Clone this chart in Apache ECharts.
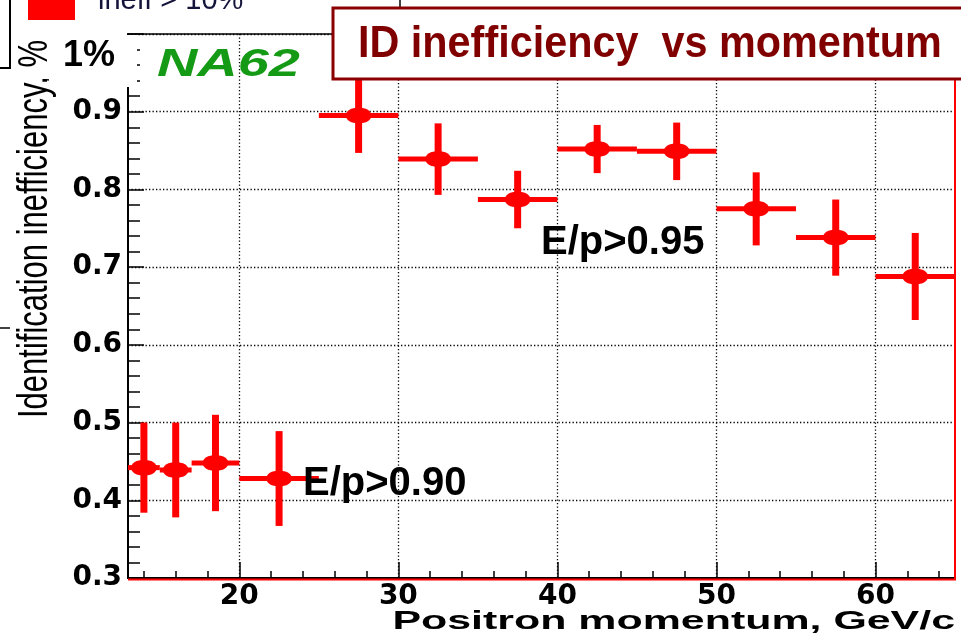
<!DOCTYPE html>
<html>
<head>
<meta charset="utf-8">
<script src="https://cdn.jsdelivr.net/npm/echarts@6/dist/echarts.min.js"></script>
<style>
  html, body { margin: 0; padding: 0; background: #fff; }
  #chart { width: 961px; height: 634px; }
</style>
</head>
<body>
<div id="chart"></div>
<script>
// momentum bins (GeV/c) and measured ID inefficiency (%) with errors
const binLow  = [13, 15, 17, 20, 25, 30, 35, 40, 45, 50, 55, 60];
const binHigh = [15, 17, 20, 25, 30, 35, 40, 45, 50, 55, 60, 65];
const ineff    = [0.442, 0.439, 0.448, 0.428, 0.895, 0.839, 0.787, 0.852, 0.849, 0.775, 0.738, 0.688];
const ineffErr = [0.058, 0.061, 0.062, 0.061, 0.048, 0.046, 0.037, 0.031, 0.037, 0.047, 0.049, 0.056];

const xMajorTicks = [20, 30, 40, 50, 60];
const xMinorTicks = [14, 16, 18, 22, 24, 26, 28, 32, 34, 36, 38, 42, 44, 46, 48, 52, 54, 56, 58, 62, 64];

const W = 961, H = 634;
const G = { left: 128, right: 6, top: 34, bottom: 56 };
const RED = '#ff0000';
const TITLE_RED = '#800000';

const chart = echarts.init(document.getElementById('chart'), null, { renderer: 'canvas' });

const points = binLow.map((lo, i) => [lo, binHigh[i], ineff[i], ineffErr[i]]);

const tickFont = { fontFamily: 'DejaVu Sans', fontWeight: 'bold', fontSize: 28, color: '#000' };
const dotted = { color: '#000', width: 1.3, type: [1.3, 2.2] };

chart.setOption({
  animation: false,
  backgroundColor: '#fff',
  grid: {
    left: G.left, right: G.right, top: G.top, bottom: G.bottom,
    show: true, borderColor: '#000', borderWidth: 1.5, backgroundColor: 'transparent'
  },
  xAxis: [{
    type: 'value', min: 13, max: 65, position: 'bottom',
    axisLine: { lineStyle: { color: '#000', width: 2 } },
    axisTick: { inside: true, length: 16, customValues: xMajorTicks, lineStyle: { color: '#000', width: 1.5 } },
    axisLabel: Object.assign({ margin: 5, customValues: xMajorTicks }, tickFont),
    splitLine: { show: true, lineStyle: dotted }
  }, {
    type: 'value', min: 13, max: 65, position: 'bottom',
    axisLine: { show: false },
    axisTick: { inside: true, length: 7, customValues: xMinorTicks, lineStyle: { color: '#000', width: 1.5 } },
    axisLabel: { show: false },
    splitLine: { show: false }
  }],
  yAxis: {
    type: 'value', min: 0.3, max: 1.0, interval: 0.1,
    axisLine: { show: true, lineStyle: { color: '#000', width: 2 } },
    axisTick: { inside: true, length: 16, lineStyle: { color: '#000', width: 1.5 } },
    minorTick: { show: true, splitNumber: 5, length: 12, lineStyle: { color: '#000', width: 1.5 } },
    axisLabel: Object.assign({ margin: 6, formatter: v => v > 0.99 ? '' : v.toFixed(1) }, tickFont),
    splitLine: { show: true, lineStyle: dotted }
  },
  series: [{
    type: 'custom',
    xAxisIndex: 0, yAxisIndex: 0,
    clip: true,
    data: points,
    renderItem: function (params, api) {
      const lo = api.value(0), hi = api.value(1), y = api.value(2), e = api.value(3);
      const xc = (lo + hi) / 2;
      const pL = api.coord([lo, y]), pR = api.coord([hi, y]);
      const pT = api.coord([xc, y + e]), pB = api.coord([xc, y - e]);
      const pC = api.coord([xc, y]);
      return {
        type: 'group',
        children: [
          { type: 'line', shape: { x1: pL[0], y1: pL[1], x2: pR[0], y2: pR[1] }, style: { stroke: RED, lineWidth: 5 } },
          { type: 'line', shape: { x1: pT[0], y1: pT[1], x2: pB[0], y2: pB[1] }, style: { stroke: RED, lineWidth: 7 } },
          { type: 'ellipse', shape: { cx: pC[0], cy: pC[1], rx: 13, ry: 8 }, style: { fill: RED } }
        ]
      };
    }
  }],
  graphic: [
    // red histogram frame along bottom and right
    { type: 'polyline', z: 50, shape: { points: [[G.left, H - G.bottom + 1.5], [W - G.right, H - G.bottom + 1.5], [W - G.right, G.top]] },
      style: { stroke: RED, lineWidth: 2, fill: null } },
    // y axis title
    { type: 'text', z: 100, x: 35, y: 418, rotation: Math.PI / 2, scaleY: 1.4,
      style: { text: 'Identification inefficiency, %', font: 'normal 31px "Liberation Sans", Arial, sans-serif',
               fill: '#000', align: 'left', verticalAlign: 'middle' } },
    // overlay hiding the old top label
    { type: 'rect', z: 101, shape: { x: 49, y: 35, width: 88, height: 52 }, style: { fill: '#fff' } },
    { type: 'text', z: 102, x: 63, y: 56,
      style: { text: '1%', font: 'bold 36px "Liberation Sans", Arial, sans-serif', fill: '#000', align: 'left', verticalAlign: 'middle' } },
    // x axis title
    { type: 'text', z: 100, x: 955, y: 622, scaleX: 1.65,
      style: { text: 'Positron momentum, GeV/c', font: 'bold 26px "Liberation Sans", Arial, sans-serif',
               fill: '#000', align: 'right', verticalAlign: 'middle' } },
    // NA62 logo text
    { type: 'text', z: 100, x: 157, y: 66, scaleX: 1.47,
      style: { text: 'NA62', font: 'italic bold 38px "Liberation Sans", Arial, sans-serif', fill: '#149a14',
               align: 'left', verticalAlign: 'middle' } },
    // cut annotations
    { type: 'text', z: 100, x: 303, y: 484,
      style: { text: 'E/p>0.90', font: 'bold 40px "Liberation Sans", Arial, sans-serif', fill: '#000', align: 'left', verticalAlign: 'middle' } },
    { type: 'text', z: 100, x: 541, y: 243,
      style: { text: 'E/p>0.95', font: 'bold 40px "Liberation Sans", Arial, sans-serif', fill: '#000', align: 'left', verticalAlign: 'middle' } },
    // title box
    { type: 'rect', z: 110, shape: { x: 333, y: 8, width: 660, height: 71 },
      style: { fill: '#fff', stroke: '#8b0000', lineWidth: 3 } },
    { type: 'text', z: 111, x: 358, y: 45, scaleX: 0.94,
      style: { text: 'ID inefficiency  vs momentum', font: 'bold 44px "Liberation Sans", Arial, sans-serif',
               fill: TITLE_RED, align: 'left', verticalAlign: 'middle' } },
    { type: 'line', z: 109, shape: { x1: 400, y1: 0, x2: 400, y2: 8 }, style: { stroke: '#000', lineWidth: 1.5 } },
    // legend fragment cut at the top
    { type: 'rect', z: 100, shape: { x: 28, y: -5, width: 47, height: 25 }, style: { fill: RED } },
    { type: 'text', z: 100, x: 98, y: 1,
      style: { text: 'ineff > 10%', font: 'normal 29px "Liberation Sans", Arial, sans-serif', fill: '#14143a',
               align: 'left', verticalAlign: 'middle' } },
    // left edge box pieces
    { type: 'rect', z: 100, shape: { x: -10, y: -10, width: 20, height: 78 },
      style: { fill: null, stroke: '#000', lineWidth: 2 } },
    { type: 'line', z: 100, shape: { x1: 0, y1: 328, x2: 10, y2: 328 }, style: { stroke: '#000', lineWidth: 1.5 } }
  ]
});
</script>
</body>
</html>
